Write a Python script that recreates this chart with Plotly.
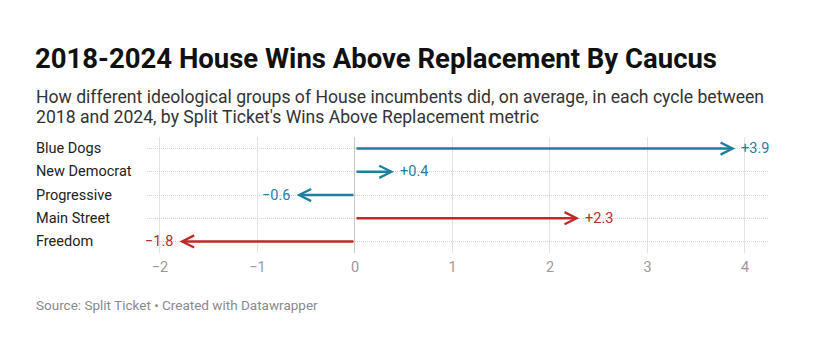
import plotly.graph_objects as go

# ---- data ----
caucuses = ["Blue Dogs", "New Democrat", "Progressive", "Main Street", "Freedom"]
war_values = [3.9, 0.4, -0.6, 2.3, -1.8]
parties = ["D", "D", "D", "R", "R"]
x_ticks = [-2, -1, 0, 1, 2, 3, 4]
x_tick_labels = ["\u22122", "\u22121", "0", "1", "2", "3", "4"]

title_text = "2018-2024 House Wins Above Replacement By Caucus"
subtitle_lines = ["How different ideological groups of House incumbents did, on average, in each cycle between",
                  "2018 and 2024, by Split Ticket's Wins Above Replacement metric"]
source_text = "Source: Split Ticket \u2022 Created with Datawrapper"

# ---- style ----
COLORS = {"D": "#1f7f9f", "R": "#c0282a"}
FONT = "Roboto, Arial, sans-serif"
W, H = 820, 340
L, R, T, B = 147, 52, 137, 87
PW, PH = W - L - R, H - T - B


def px_to_paper(xpx, ypx):
    return (xpx - L) / PW, 1 - (ypx - T) / PH


fig = go.Figure()

# invisible trace to anchor axes
fig.add_trace(go.Scatter(x=war_values, y=caucuses, mode="markers",
                         marker=dict(opacity=0), hoverinfo="skip", showlegend=False))

annotations = []
for cat, v, p in zip(caucuses, war_values, parties):
    c = COLORS[p]
    annotations.append(dict(x=v, y=cat, ax=0, ay=cat, xref="x", yref="y", axref="x", ayref="y",
                            text="", showarrow=True, arrowhead=5, arrowsize=0.95,
                            arrowwidth=2.5, arrowcolor=c, standoff=0, startstandoff=0))
    lbl = ("+" if v >= 0 else "\u2212") + f"{abs(v):.1f}"
    annotations.append(dict(x=v, y=cat, xref="x", yref="y", text=lbl, showarrow=False,
                            xanchor="left" if v >= 0 else "right",
                            xshift=4 if v >= 0 else -4,
                            font=dict(family=FONT, size=14.5, color=c)))
    annotations.append(dict(x=(34 - L) / PW, y=cat, xref="paper", yref="y",
                            text=cat, showarrow=False, xanchor="left",
                            font=dict(family=FONT, size=14.5, color="#222")))

for i, line in enumerate(subtitle_lines):
    xp, yp = px_to_paper(34, 97 + 20 * i)
    annotations.append(dict(x=xp, y=yp, xref="paper", yref="paper", text=line,
                            showarrow=False, xanchor="left", yanchor="middle",
                            font=dict(family=FONT, size=17.6, color="#333")))
xp, yp = px_to_paper(34, 305)
annotations.append(dict(x=xp, y=yp, xref="paper", yref="paper", text=source_text,
                        showarrow=False, xanchor="left", yanchor="middle",
                        font=dict(family=FONT, size=13.5, color="#8a8a8a")))

fig.update_layout(
    width=W, height=H,
    margin=dict(l=L, r=R, t=T, b=B),
    paper_bgcolor="white", plot_bgcolor="white",
    title=dict(text="<b>" + title_text + "</b>", x=35 / W, xanchor="left", xref="container",
               y=1 - 58 / H, yanchor="middle", yref="container",
               font=dict(family=FONT, size=27.5, color="#111")),
    xaxis=dict(range=[-2.133, 4.236], tickvals=x_ticks, ticktext=x_tick_labels,
               showgrid=True, gridcolor="#e3e3e3", gridwidth=1,
               zeroline=True, zerolinecolor="#c8c8c8", zerolinewidth=1,
               showline=False, ticks="", ticklabelstandoff=3,
               tickfont=dict(family=FONT, size=14.5, color="#9a9a9a"), fixedrange=True),
    yaxis=dict(categoryorder="array", categoryarray=caucuses, range=[4.5, -0.5],
               showticklabels=False, ticks="", showgrid=True, gridcolor="#d4d4d4",
               griddash="1px,1px", gridwidth=1, zeroline=False, showline=False, fixedrange=True),
    annotations=annotations,
    showlegend=False,
)

fig.write_html("out.html")
